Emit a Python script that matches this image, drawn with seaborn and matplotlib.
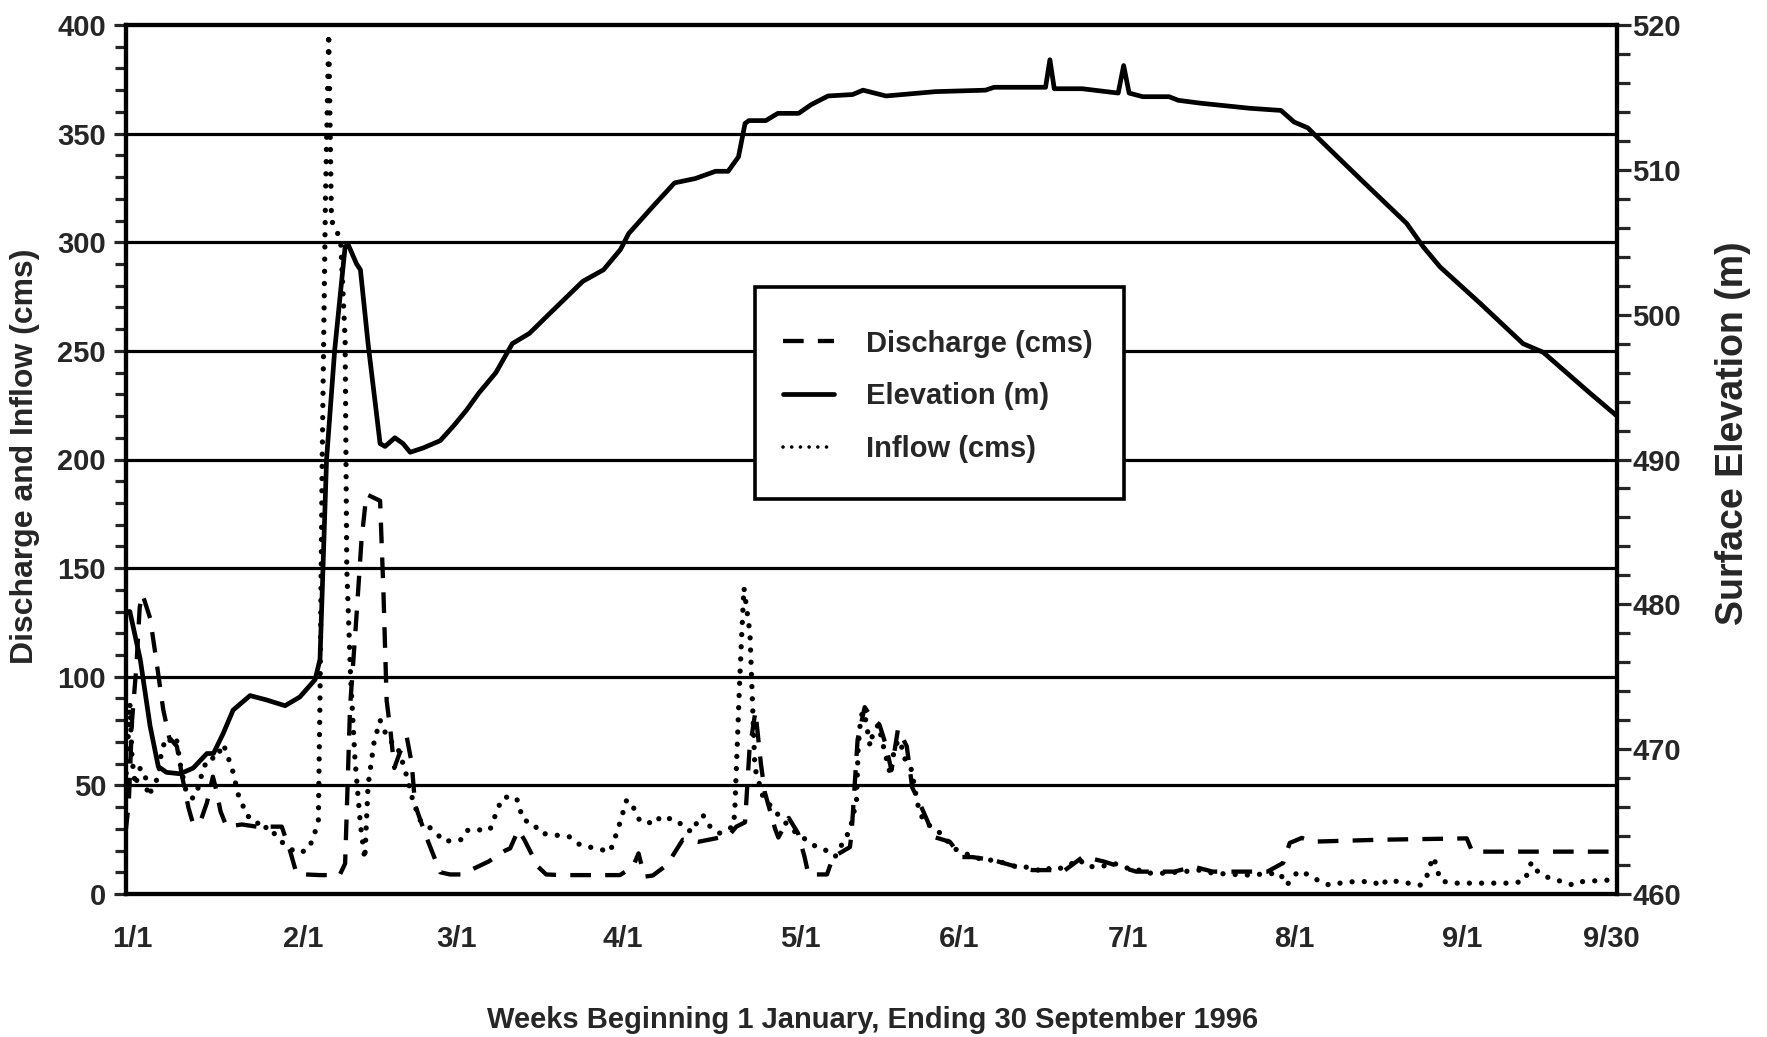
import matplotlib
matplotlib.use("Agg")
import matplotlib.pyplot as plt
from matplotlib.ticker import MultipleLocator, FixedLocator
from matplotlib.lines import Line2D
from matplotlib.patches import Rectangle
import pandas as pd
import seaborn as sns

# Days counted from 1 January 1996
elev_day = [0.3, 0.8, 2.7, 4.5, 6.0, 7.5, 10.0, 12.4, 14.9, 16.1, 17.9,
            19.7, 22.8, 25.8, 29.2, 31.9, 34.7, 35.6, 36.2, 36.8, 38.3,
            40.2, 40.8, 42.3, 43.0, 44.4, 46.6, 47.5, 49.3, 50.8, 52.1,
            54.5, 57.6, 60.0, 62.4, 64.7, 67.8, 70.8, 73.9, 77.7, 83.7,
            87.5, 90.6, 92.1, 96.6, 100.5, 104.3, 108.0, 110.3, 112.2, 113.4,
            114.1, 117.2, 119.4, 123.2, 125.5, 128.6, 133.1, 135.0, 139.2, 148.3,
            157.4, 159.0, 168.4, 169.2, 170.0, 175.1, 181.7, 182.7, 183.7, 186.2,
            191.0, 192.7, 196.8, 205.8, 211.5, 213.9, 216.4, 218.0, 222.1, 226.2,
            234.5, 237.5, 240.6, 247.9, 255.8, 259.5, 268.0, 273.0]
elev_m = [479.5, 479.5, 476.2, 471.6, 468.8, 468.4, 468.3, 468.7, 469.7, 469.7, 471.1,
          472.7, 473.7, 473.4, 473.0, 473.6, 474.8, 476.2, 483.1, 490.0, 497.6,
          504.7, 504.8, 503.5, 503.1, 498.0, 491.1, 490.9, 491.5, 491.1, 490.5,
          490.8, 491.3, 492.3, 493.4, 494.6, 496.0, 498.0, 498.7, 500.1, 502.3,
          503.1, 504.5, 505.6, 507.5, 509.1, 509.4, 509.9, 509.9, 510.9, 513.2,
          513.4, 513.4, 513.9, 513.9, 514.5, 515.1, 515.2, 515.5, 515.1, 515.4,
          515.5, 515.7, 515.7, 517.6, 515.6, 515.6, 515.3, 517.2, 515.3, 515.05,
          515.05, 514.8, 514.6, 514.25, 514.1, 513.3, 512.9, 512.3, 510.8, 509.3,
          506.3, 504.7, 503.3, 500.8, 498.0, 497.4, 494.6, 493.0]

dis_day = [0.0, 0.6, 1.2, 2.0, 2.6, 3.1, 4.5, 5.5, 6.9, 8.0,
           9.4, 10.3, 11.5, 12.4, 13.8, 14.9, 16.0, 16.6, 17.4, 18.5,
           21.3, 24.0, 28.6, 30.1, 31.3, 33.0, 35.6, 39.2, 40.2, 40.7,
           41.1, 42.2, 43.2, 44.1, 46.6, 47.2, 47.8, 48.5, 49.2, 50.2,
           51.5, 52.4, 53.0, 55.1, 57.6, 59.4, 61.5, 64.0, 66.5, 69.5,
           70.4, 71.9, 73.0, 75.5, 77.0, 79.8, 90.5, 92.9, 93.9, 95.0,
           96.5, 98.7, 100.0, 102.0, 104.8, 108.8, 110.8, 111.8, 113.4, 114.2,
           115.3, 116.3, 117.0, 118.9, 119.5, 121.4, 123.1, 124.3, 125.0, 128.4,
           129.5, 132.6, 132.9, 134.0, 135.3, 136.6, 138.0, 139.0, 140.2, 141.4,
           143.0, 144.0, 144.8, 146.9, 147.8, 150.9, 153.0, 155.0, 158.8, 163.0,
           166.0, 169.8, 171.6, 175.3, 179.0, 182.0, 185.0, 189.3, 192.0, 195.5,
           199.0, 209.0, 211.9, 213.1, 215.3, 217.4, 230.0, 245.5, 246.5, 273.0]
dis_cms = [28, 42, 80, 105, 132, 138, 127, 110, 85, 72,
           68, 55, 40, 32, 34, 42, 54, 48, 38, 31,
           32, 31, 31, 20, 9.5, 9, 8.7, 8.7, 14, 54,
           86, 125, 163, 184, 181, 140, 89, 75, 58, 65,
           72, 60, 41, 26, 10, 9, 9, 12, 15, 20,
           21, 29.5, 25, 12.6, 9, 8.7, 8.7, 12.6, 18.7, 8,
           8.5, 12.6, 17, 25, 24, 26, 28, 31, 33, 66,
           84, 60, 47, 30, 26, 35, 28, 17, 9, 9,
           17, 21.6, 28, 71, 86, 81, 78, 70, 57, 76,
           68, 49, 45, 33, 26.4, 24, 17, 17, 15.6, 12.6,
           11, 11, 10.3, 17.2, 15, 12.6, 10.3, 10.3, 10.3, 12.6,
           10.3, 10.3, 14.3, 23.5, 25.8, 24.1, 25, 25.6, 19.5, 19.5]

inf_day = [0.0, 0.4, 0.8, 1.2, 1.8, 2.7, 3.6, 4.1, 4.8, 6.0,
           6.6, 7.5, 8.5, 9.3, 10.0, 10.5, 11.2, 12.4, 13.5, 14.2,
           15.5, 16.5, 17.9, 18.5, 19.7, 20.6, 21.6, 22.2, 24.0, 24.6,
           26.4, 27.7, 29.5, 31.3, 33.2, 34.3, 35.3, 35.6, 36.0, 36.6,
           37.2, 37.7, 38.7, 39.4, 40.2, 40.5, 41.2, 42.0, 43.0, 43.8,
           44.4, 45.5, 46.6, 47.6, 48.6, 49.6, 50.8, 51.5, 52.6, 53.9,
           56.0, 58.5, 60.0, 61.6, 62.7, 66.7, 67.6, 68.9, 70.4, 71.6,
           72.8, 74.6, 75.9, 81.3, 83.2, 88.7, 90.1, 91.7, 92.3, 93.2,
           94.2, 97.2, 97.8, 100.9, 102.7, 103.9, 104.5, 105.7, 106.4, 107.6,
           108.8, 111.2, 111.5, 112.4, 112.8, 113.2, 114.3, 115.2, 116.7, 120.3,
           122.8, 126.5, 128.3, 129.9, 132.6, 133.8, 134.1, 134.6, 135.2, 136.3,
           136.8, 137.8, 139.0, 140.0, 140.8, 141.7, 142.7, 143.9, 144.5, 145.2,
           146.2, 148.5, 150.3, 151.4, 152.7, 155.1, 157.6, 159.0, 163.0, 164.5,
           167.0, 168.0, 169.7, 172.3, 174.5, 176.0, 178.7, 180.7, 184.4, 186.5,
           187.7, 190.5, 196.7, 199.0, 205.0, 211.3, 212.5, 213.4, 214.6, 216.8,
           218.6, 220.4, 222.3, 224.8, 228.4, 229.9, 230.8, 233.0, 237.0, 238.1,
           238.7, 239.4, 240.0, 240.6, 242.4, 250.3, 253.4, 255.8, 256.7, 257.3,
           258.2, 259.4, 260.6, 262.0, 265.0, 266.7, 271.0, 273.0]
inf_cms = [50, 68, 88, 62, 50, 58, 55, 45, 48, 54,
           66, 72, 70, 72, 60, 54, 46, 44, 50, 58,
           63, 62, 69, 65, 56, 46, 40, 36, 34, 30,
           31, 26, 22, 19, 20, 25, 34, 90, 200, 320,
           396, 310, 305, 300, 255, 150, 100, 62, 32, 16,
           50, 70, 80, 74, 70, 69, 60, 54, 43, 34,
           30, 24, 25, 25, 29.5, 29.5, 35.6, 44, 45, 44,
           34, 32.7, 28, 26.3, 22.6, 19.5, 29.5, 43, 43, 38.7,
           33.3, 32.5, 35.6, 34, 29.5, 28.7, 32.5, 36.4, 32.7, 29.5,
           28, 31, 37, 97, 120, 141, 120, 58, 44.6, 34,
           28, 21.6, 20, 17.2, 29.5, 43, 67, 82, 84, 68,
           74, 78, 65, 55, 68, 71, 62, 57, 48, 39,
           33, 29.5, 25, 21, 20, 17, 15.6, 15.6, 12.6, 12.6,
           11, 12.6, 11, 12.6, 16, 12.6, 12.6, 14.3, 11, 11,
           9.5, 9.6, 11, 9.6, 8.7, 9.6, 4.1, 6.4, 10.5, 8.7,
           5.7, 4.1, 5, 5.7, 5.7, 3.4, 6.4, 5.7, 4.1, 7.4,
           12.6, 17, 12.6, 6.4, 5, 5, 5, 5.7, 9.6, 14.5,
           11, 8.7, 7.4, 6.4, 4.1, 5.7, 6.4, 6.0]

# x axis: weekly tick marks, month labels set under them
label_days = [1.2, 32.6, 60.5, 91.0, 123.6, 152.5, 183.5, 214.0, 244.7, 272.0]
month_labels = ["1/1", "2/1", "3/1", "4/1", "5/1", "6/1", "7/1", "8/1", "9/1", "9/30"]
week_days = list(range(0, 274, 7))

series_labels = ["Discharge (cms)", "Elevation (m)", "Inflow (cms)"]

sns.set_style("white")
plt.rcParams["font.family"] = ["Liberation Sans", "DejaVu Sans"]
plt.rcParams["font.weight"] = "bold"
FS = 21
FS_AX = 23

W, H = 1767, 1037
fig = plt.figure(figsize=(W / 100, H / 100), dpi=100)
x0, x1, y_top, y_bot = 125.5, 1617, 25, 894
ax = fig.add_axes([x0 / W, 1 - y_bot / H, (x1 - x0) / W, (y_bot - y_top) / H])
ax2 = ax.twinx()

discharge = pd.DataFrame({"day": dis_day, "cms": dis_cms})
inflow = pd.DataFrame({"day": inf_day, "cms": inf_cms})
elevation = pd.DataFrame({"day": elev_day, "m": elev_m})

DASH = (0, (4.8, 3.3))
DOT = (0, (0.01, 2.3))

# horizontal reference lines
for v in range(50, 400, 50):
    ax.axhline(v, color="black", lw=2.3, zorder=1)

sns.lineplot(data=discharge, x="day", y="cms", ax=ax, color="black", lw=3.1,
             linestyle=DASH, estimator=None, sort=False, zorder=3)
sns.lineplot(data=inflow, x="day", y="cms", ax=ax, color="black", lw=3.8,
             linestyle=DOT, dash_capstyle="round",
             estimator=None, sort=False, zorder=3)
sns.lineplot(data=elevation, x="day", y="m", ax=ax2, color="black", lw=3.4,
             estimator=None, sort=False, zorder=3)

ax.set_xlim(0, 273)
ax.set_ylim(0, 400)
ax2.set_ylim(460, 520)
ax.set_xlabel("")
ax.set_ylabel("")
ax2.set_ylabel("")

ax.xaxis.set_major_locator(FixedLocator(label_days))
ax.set_xticklabels(month_labels)
ax.xaxis.set_minor_locator(FixedLocator(week_days))
ax.tick_params(axis="x", which="major", length=0, pad=22, labelsize=FS)
ax.tick_params(axis="x", which="minor", length=9.5, width=2.3, direction="out")

ax.yaxis.set_major_locator(MultipleLocator(50))
ax.yaxis.set_minor_locator(MultipleLocator(10))
ax.tick_params(axis="y", which="major", length=9, width=2.3, direction="out",
               pad=5, labelsize=FS, left=True)
ax.tick_params(axis="y", which="minor", length=8, width=2.3, direction="out", left=True)

ax2.yaxis.set_major_locator(MultipleLocator(10))
ax2.yaxis.set_minor_locator(MultipleLocator(2))
ax2.tick_params(axis="y", which="major", length=10, width=2.3, direction="out",
                pad=1, labelsize=FS, right=True)
ax2.tick_params(axis="y", which="minor", length=9, width=2.3, direction="out", right=True)

for a in (ax, ax2):
    for s in a.spines.values():
        s.set_color("black")
        s.set_linewidth(3.0)
    a.grid(False)

fig.text(25 / W, 1 - 456 / H, "Discharge and Inflow (cms)", rotation=90,
         ha="center", va="center", fontsize=FS_AX)
fig.text(1733 / W, 1 - 433 / H, "Surface Elevation (m)", rotation=90,
         ha="center", va="center", fontsize=27)
fig.text(873 / W, 1 - 1020 / H, "Weeks Beginning 1 January, Ending 30 September 1996",
         ha="center", va="center", fontsize=FS)

# legend box drawn as its own white panel
box = Rectangle((0.422, 0.4545), 0.2475, 0.244, transform=ax2.transAxes,
                facecolor="white", edgecolor="black", lw=2.6, zorder=8)
ax2.add_patch(box)

handles = [
    Line2D([], [], color="black", lw=3.1, linestyle=DASH),
    Line2D([], [], color="black", lw=3.4),
    Line2D([], [], color="black", lw=2.6, linestyle=(0, (0.01, 2.4)), dash_capstyle="round"),
]
leg = ax2.legend(handles, series_labels, loc="upper left",
                 bbox_to_anchor=(0.4408, 0.6495), fontsize=FS, frameon=False,
                 borderpad=0, borderaxespad=0, labelspacing=0.85,
                 handlelength=1.75, handletextpad=1.1)
leg.set_zorder(10)

fig.savefig("out.png", dpi=100)
